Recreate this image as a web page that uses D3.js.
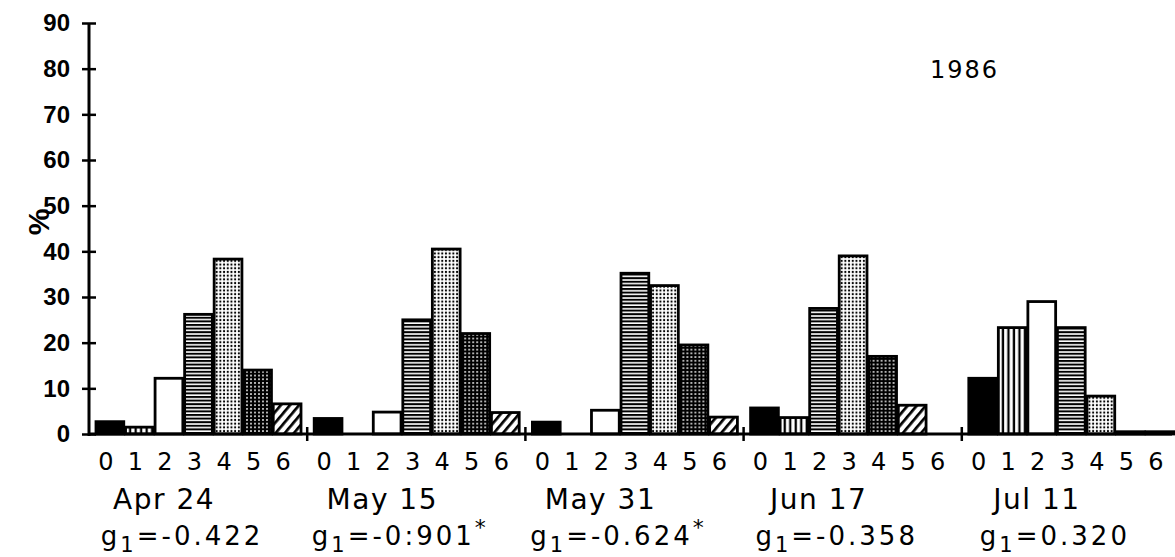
<!DOCTYPE html>
<html>
<head>
<meta charset="utf-8">
<script src="https://cdn.jsdelivr.net/npm/d3@7"></script>
<style>
  body { margin: 0; background: #fff; }
  svg { display: block; }
</style>
</head>
<body>
<svg id="chart"></svg>
<script>
const width = 1175
const height = 557

// size classes 0..6 and the five sampling dates
const categories = ["0", "1", "2", "3", "4", "5", "6"]
const dates = ["Apr 24", "May 15", "May 31", "Jun 17", "Jul 11"]
const g1Values = ["-0.422", "-0:901", "-0.624", "-0.358", "0.320"]
const g1Signif = [false, true, true, false, false]
const yTicks = [0, 10, 20, 30, 40, 50, 60, 70, 80, 90]

// % per class, one array per date
const apr24 = [2.7, 1.5, 12.2, 26.2, 38.3, 14.0, 6.6]
const may15 = [3.4, 0, 4.8, 25.0, 40.5, 22.0, 4.7]
const may31 = [2.6, 0, 5.2, 35.2, 32.5, 19.5, 3.7]
const jun17 = [5.7, 3.6, 27.5, 39.0, 17.0, 6.3, 0]
const jul11 = [12.2, 23.3, 29.0, 23.3, 8.3, 0.5, 0.5]
const seriesValues = [apr24, may15, may31, jun17, jul11]

// fill styles; the Jun 17 panel in the original skips the open fill
const fills = ["#000", "url(#vlines)", "#fff", "url(#hlines)", "url(#dots)", "url(#dots2)", "url(#diag)"]
const fillShift = { "Jun 17": [0, 1, 3, 4, 5, 6, 6] }

const svg = d3.select("#chart")
              .attr("width", width)
              .attr("height", height)

const x0 = d3.scaleBand().domain(dates).range([89, 1180]).padding(0)
const x1 = d3.scaleBand().domain(categories).range([7, 212]).paddingInner(0.06)
const y = d3.scaleLinear().domain([0, 90]).range([434, 23])

// patterns
const defs = svg.append("defs")
const vl = defs.append("pattern").attr("id", "vlines").attr("patternUnits", "userSpaceOnUse")
               .attr("width", 5.5).attr("height", 10)
vl.append("rect").attr("width", 5.5).attr("height", 10).attr("fill", "#fff")
vl.append("rect").attr("x", 1.5).attr("width", 2.3).attr("height", 10).attr("fill", "#000")

const hl = defs.append("pattern").attr("id", "hlines").attr("patternUnits", "userSpaceOnUse")
               .attr("width", 10).attr("height", 3.6)
hl.append("rect").attr("width", 10).attr("height", 3.6).attr("fill", "#fff")
hl.append("rect").attr("width", 10).attr("height", 2.0).attr("fill", "#000")

const dt = defs.append("pattern").attr("id", "dots").attr("patternUnits", "userSpaceOnUse")
               .attr("width", 3.7).attr("height", 3.7)
dt.append("rect").attr("width", 3.7).attr("height", 3.7).attr("fill", "#fff")
dt.append("circle").attr("cx", 1.85).attr("cy", 1.85).attr("r", 1.1).attr("fill", "#000")

const dt2 = defs.append("pattern").attr("id", "dots2").attr("patternUnits", "userSpaceOnUse")
                .attr("width", 4).attr("height", 3.7)
dt2.append("rect").attr("width", 4).attr("height", 3.7).attr("fill", "#000")
dt2.append("circle").attr("cx", 2).attr("cy", 1.85).attr("r", 0.95).attr("fill", "#fff")

const dg = defs.append("pattern").attr("id", "diag").attr("patternUnits", "userSpaceOnUse")
               .attr("width", 7).attr("height", 10).attr("patternTransform", "rotate(40)")
dg.append("rect").attr("width", 7).attr("height", 10).attr("fill", "#fff")
dg.append("rect").attr("width", 2.7).attr("height", 10).attr("fill", "#000")

// bars
const groups = svg.append("g")
  .selectAll("g")
  .data(seriesValues.map((vals, i) => ({ date: dates[i], vals, i })))
  .join("g")
    .attr("transform", d => `translate(${x0(d.date)},0)`)

groups.selectAll("rect")
  .data(d => d.vals.map((v, k) => ({ v, k, date: d.date })).filter(e => e.v > 0))
  .join("rect")
    .attr("x", e => x1(categories[e.k]))
    .attr("width", x1.bandwidth())
    .attr("y", e => y(e.v))
    .attr("height", e => y(0) - y(e.v))
    .attr("fill", e => fills[fillShift[e.date] ? fillShift[e.date][e.k] : e.k])
    .attr("stroke", "#000")
    .attr("stroke-width", 2.8)

// y axis
const yAxis = svg.append("g")
  .attr("transform", "translate(89,0)")
  .call(d3.axisLeft(y).tickValues(yTicks).tickSize(7).tickPadding(12).tickSizeOuter(0))
yAxis.select(".domain").attr("stroke-width", 3)
     .attr("d", `M0,${y(90)}V${y(0) + 2}`)
yAxis.selectAll(".tick line").attr("x1", 7).attr("stroke-width", 2.5)
yAxis.selectAll(".tick text")
     .attr("font-family", "Liberation Sans, Arial, sans-serif")
     .attr("font-weight", "bold")
     .attr("font-size", 24)
     .attr("fill", "#000")

// x axis line and group ticks
svg.append("line")
   .attr("x1", 89).attr("x2", 1172)
   .attr("y1", y(0)).attr("y2", y(0))
   .attr("stroke", "#000").attr("stroke-width", 3)

svg.append("g")
  .selectAll("line")
  .data(dates.slice(1))
  .join("line")
    .attr("x1", d => x0(d)).attr("x2", d => x0(d))
    .attr("y1", y(0) - 7).attr("y2", y(0) + 7)
    .attr("stroke", "#000").attr("stroke-width", 2.5)

// class digits under bars
const labelFont = "DejaVu Sans, Verdana, sans-serif"
groups.selectAll("text.cat")
  .data(categories)
  .join("text")
    .attr("class", "cat")
    .attr("x", c => x1(c) + x1.bandwidth() / 2 - 4)
    .attr("y", 470)
    .attr("text-anchor", "middle")
    .attr("font-family", labelFont)
    .attr("font-size", 24)
    .text(c => c)

// date labels
groups.append("text")
  .attr("x", x0.bandwidth() / 2 - 34)
  .attr("y", 509)
  .attr("text-anchor", "middle")
  .attr("font-family", labelFont)
  .attr("font-size", 28)
  .attr("letter-spacing", 1.5)
  .text(d => d.date)

// skewness labels
const g1Text = groups.append("text")
  .attr("x", x0.bandwidth() / 2 - 16)
  .attr("y", 545)
  .attr("text-anchor", "middle")
  .attr("font-family", labelFont)
  .attr("font-size", 26)
  .attr("letter-spacing", 3)
g1Text.append("tspan").text("g")
g1Text.append("tspan").attr("dy", 7).attr("font-size", 21).text("1")
g1Text.append("tspan").attr("dy", -7).text(d => "=" + g1Values[d.i])
g1Text.filter(d => g1Signif[d.i])
      .append("tspan").attr("dy", -10).attr("font-size", 22).text("*")

// y label and year
svg.append("text")
   .attr("transform", "translate(49,222) rotate(-90)")
   .attr("text-anchor", "middle")
   .attr("font-family", "Liberation Sans, Arial, sans-serif")
   .attr("font-weight", "bold")
   .attr("font-size", 30)
   .text("%")

svg.append("text")
   .attr("x", 930).attr("y", 78)
   .attr("font-family", labelFont)
   .attr("font-size", 24)
   .attr("letter-spacing", 2)
   .text("1986")
</script>
</body>
</html>
